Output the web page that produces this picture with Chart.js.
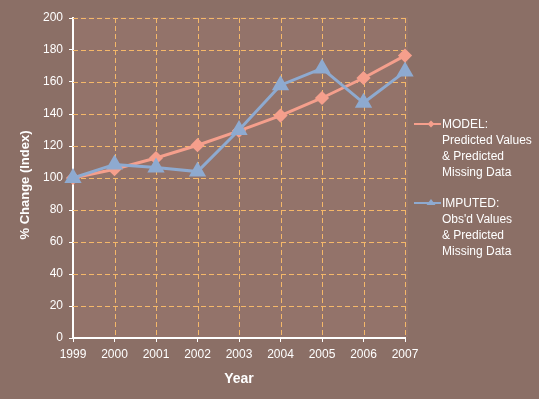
<!DOCTYPE html>
<html>
<head>
<meta charset="utf-8">
<script src="https://cdn.jsdelivr.net/npm/chart.js@4"></script>
<style>
  html, body { margin: 0; padding: 0; background: #8b6f66; }
  #wrap { position: relative; width: 539px; height: 399px; }
  #legend {
    position: absolute; left: 414px; top: 116px;
    font-family: "Liberation Sans", Arial, sans-serif; font-size: 12px;
    color: #ffffff; line-height: 16px;
  }
  .item { position: relative; padding-left: 28px; margin-bottom: 15px; }
  .sym { position: absolute; left: 0; top: 2px; width: 28px; height: 12px; }
</style>
</head>
<body>
<div id="wrap">
  <canvas id="chart" width="539" height="399"></canvas>
  <div id="legend">
    <div class="item"><canvas class="sym" id="sym0" width="28" height="12"></canvas>MODEL:<br>Predicted Values<br>&amp; Predicted<br>Missing Data</div>
    <div class="item"><canvas class="sym" id="sym1" width="28" height="12"></canvas>IMPUTED:<br>Obs'd Values<br>&amp; Predicted<br>Missing Data</div>
  </div>
</div>
<script>
// ============================
// Data
// ============================
const years = ["1999", "2000", "2001", "2002", "2003", "2004", "2005", "2006", "2007"];
const modelValues = [100, 105.5, 112.5, 120.5, 129.5, 139, 150, 162.5, 176.5];
const imputedValues = [100, 108.5, 106.5, 104, 130, 158, 168.5, 147, 166.5];

const pink = "#f59f8c";
const blue = "#8eaad0";
const gridColor = "#f5b869";
const plotColor = "#93736a";

// ============================
// Plot background + dashed grid
// ============================
const dashGrid = {
  id: "dashGrid",
  beforeDatasetsDraw(chart) {
    const a = chart.chartArea;
    const c = chart.ctx;
    const xs = chart.scales.x, ys = chart.scales.y;
    c.save();
    c.fillStyle = plotColor;
    c.fillRect(a.left + 1, a.top - 1, a.right - a.left + 2, a.bottom - a.top);
    c.strokeStyle = gridColor;
    c.lineWidth = 1;
    c.setLineDash([5, 3]);
    ys.ticks.forEach(t => {
      if (t.value === 0) return;
      const y = Math.round(ys.getPixelForValue(t.value)) + 0.5;
      c.beginPath(); c.moveTo(a.left, y); c.lineTo(a.right, y); c.stroke();
    });
    years.forEach((yr, i) => {
      if (i === 0) return;
      const x = Math.round(xs.getPixelForValue(i)) + 0.5;
      c.beginPath(); c.moveTo(x, a.top); c.lineTo(x, a.bottom); c.stroke();
    });
    c.restore();
  },
  afterDraw(chart) {
    // y axis title
    const c = chart.ctx;
    c.save();
    c.translate(25, 185);
    c.rotate(-Math.PI / 2);
    c.fillStyle = "#ffffff";
    c.font = "bold 13px 'Liberation Sans'";
    c.textAlign = "center";
    c.textBaseline = "middle";
    c.fillText("% Change (Index)", 0, 0);
    c.restore();
  }
};

const ctx = document.getElementById("chart");
new Chart(ctx, {
  type: "line",
  data: {
    labels: years,
    datasets: [
      {
        label: "MODEL",
        data: modelValues,
        borderColor: pink,
        backgroundColor: pink,
        borderWidth: 3,
        pointStyle: "rectRot",
        pointRadius: 5,
        tension: 0,
        order: 2
      },
      {
        label: "IMPUTED",
        data: imputedValues,
        borderColor: blue,
        backgroundColor: blue,
        borderWidth: 3,
        pointStyle: "triangle",
        pointRadius: 7,
        tension: 0,
        order: 1
      }
    ]
  },
  options: {
    responsive: false,
    animation: false,
    layout: { padding: { top: 18, right: 134 } },
    plugins: {
      legend: { display: false },
      tooltip: { enabled: false }
    },
    scales: {
      x: {
        offset: false,
        afterFit(s) { s.height = 61; },
        grid: {
          color: "rgba(0,0,0,0)",
          drawTicks: true,
          tickLength: 4,
          tickColor: "#ffffff"
        },
        border: { color: "#ffffff", width: 2 },
        ticks: {
          color: "#ffffff",
          font: { family: "Liberation Sans", size: 12 },
          padding: 5,
          maxRotation: 0,
          autoSkip: false
        },
        title: {
          display: true,
          text: "Year",
          color: "#ffffff",
          font: { family: "Liberation Sans", size: 14, weight: "bold" },
          padding: { top: 4, bottom: 11 }
        }
      },
      y: {
        min: 0,
        max: 200,
        afterFit(s) { s.width = 73; },
        grid: {
          color: "rgba(0,0,0,0)",
          tickLength: 4,
          tickColor: "#ffffff"
        },
        border: { color: "#ffffff", width: 2 },
        ticks: {
          stepSize: 20,
          color: "#ffffff",
          font: { family: "Liberation Sans", size: 12 },
          padding: 6
        }
      }
    }
  },
  plugins: [dashGrid]
});

// ============================
// Legend symbols
// ============================
function drawSym(id, color, kind) {
  const c = document.getElementById(id).getContext("2d");
  c.strokeStyle = color;
  c.fillStyle = color;
  c.lineWidth = 2;
  c.beginPath(); c.moveTo(0, 6); c.lineTo(27, 6); c.stroke();
  c.beginPath();
  if (kind === "diamond") {
    c.moveTo(17, 2.5); c.lineTo(20.5, 6); c.lineTo(17, 9.5); c.lineTo(13.5, 6);
  } else {
    c.moveTo(17, 2); c.lineTo(21.5, 8); c.lineTo(12.5, 8);
  }
  c.closePath(); c.fill();
}
drawSym("sym0", pink, "diamond");
drawSym("sym1", blue, "triangle");
</script>
</body>
</html>
